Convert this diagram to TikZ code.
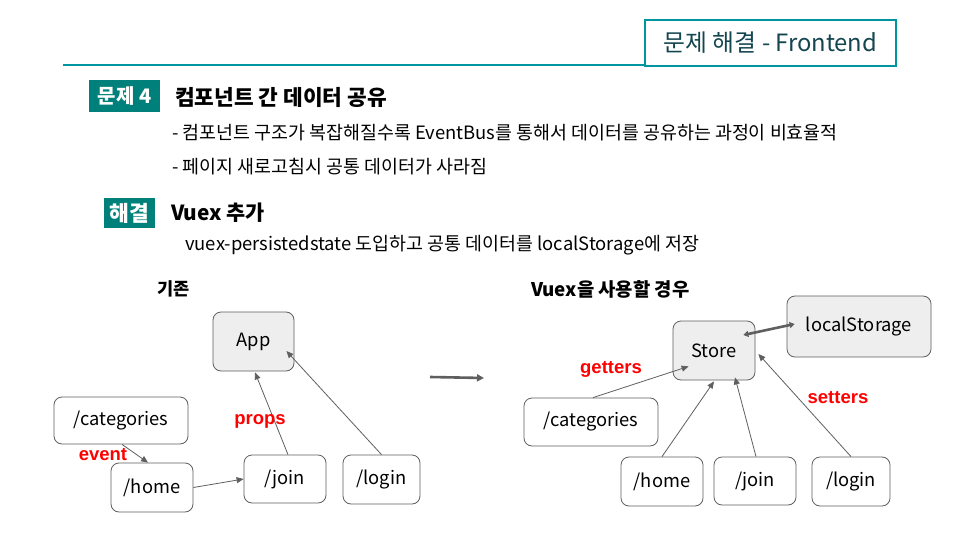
\documentclass[tikz,border=0pt]{standalone}
\usepackage{fontspec}
\setmainfont{Noto Sans CJK KR}
\newfontfamily\lblfont{Liberation Sans}
\usetikzlibrary{arrows.meta}
\definecolor{tealline}{RGB}{0,150,160}
\definecolor{tealbox}{RGB}{0,128,122}
\definecolor{headtxt}{RGB}{20,70,80}
\definecolor{edgegray}{RGB}{95,95,95}
\definecolor{nodefill}{RGB}{238,238,238}
\definecolor{lblred}{RGB}{255,0,0}
\tikzset{
  txt/.style={inner sep=0pt, anchor=west, font=\fontsize{18.4}{21}\selectfont},
  tagbox/.style={fill=tealbox, text=white, inner sep=0pt, font=\bfseries\fontsize{20}{22}\selectfont},
  rbox/.style={draw=edgegray, line width=0.8pt, rounded corners=8pt, inner sep=0pt, font=\fontsize{18.3}{21}\selectfont},
  gbox/.style={rbox, fill=nodefill},
  conn/.style={draw=edgegray, line width=0.8pt, -{Triangle[length=7pt,width=6pt]}},
  thick conn/.style={draw=edgegray, line width=2.6pt, -{Triangle[length=7pt,width=7pt]}},
  redlbl/.style={inner sep=0pt, text=lblred, font=\lblfont\bfseries\fontsize{18.5}{20}\selectfont}
}
\begin{document}
\begin{tikzpicture}[x=1pt,y=-1pt]
\useasboundingbox[fill=white] (0,0) rectangle (960,540);
% header
\draw[tealline, line width=2.5pt] (63,65) -- (896,65);
\node[draw=tealline, line width=2pt, fill=white, minimum width=251pt, minimum height=46pt, inner sep=0pt,
  text=headtxt, font=\fontsize{23.8}{27}\selectfont] (head) at (770.5,43) {문제 해결 - Frontend};
% problem
\node[tagbox, minimum width=71pt, minimum height=32pt] (tag1) at (124.5,96) {문제 4};
\node[txt, font=\bfseries\fontsize{21.4}{25}\selectfont] (title1) at (175,97) {컴포넌트 간 데이터 공유};
\node[txt] (b1) at (172,133) {- 컴포넌트 구조가 복잡해질수록 EventBus를 통해서 데이터를 공유하는 과정이 비효율적};
\node[txt] (b2) at (172,167) {- 페이지 새로고침시 공통 데이터가 사라짐};
% solution
\node[tagbox, minimum width=51pt, minimum height=30pt, font=\bfseries\fontsize{21.5}{24}\selectfont] (tag2) at (129.5,213) {해결};
\node[txt, font=\bfseries\fontsize{20.8}{24}\selectfont] (title2) at (171,213) {Vuex 추가};
\node[txt] (s1) at (185,245) {vuex-persistedstate 도입하고 공통 데이터를 localStorage에 저장};
\node[txt, font=\bfseries\fontsize{17.6}{20}\selectfont] (old) at (157,289) {기존};
\node[txt, font=\bfseries\fontsize{18.8}{22}\selectfont] (new) at (531,289) {Vuex을 사용할 경우};
% left diagram
\node[gbox, minimum width=81pt, minimum height=59pt] (app) at (253.5,341.5) {App};
\node[rbox, minimum width=134pt, minimum height=47pt] (cat) at (121,420.5) {/categories};
\node[rbox, minimum width=82pt, minimum height=49pt] (home) at (152,487.5) {/home};
\node[rbox, minimum width=82pt, minimum height=48pt] (join) at (285,479) {/join};
\node[rbox, minimum width=77pt, minimum height=49pt] (login) at (381.5,479.5) {/login};
\draw[conn] ([xshift=1pt]cat.south) -- ([xshift=-4pt]home.north);
\draw[conn] (home.east) -- (join.west);
\draw[conn] ([xshift=3pt]join.north) -- ([xshift=1.5pt,yshift=-1pt]app.south);
\draw[conn] (login.north) -- ([xshift=-8pt,yshift=-9.5pt]app.east);
\node[redlbl] (ev) at (103,455) {event};
\node[redlbl] (pr) at (260,421) {props};
% middle arrow
\coordinate (ma) at (430,377);
\coordinate (mb) at (484,378);
\draw[thick conn] (ma) -- (mb);
% right diagram
\node[gbox, minimum width=82pt, minimum height=59pt] (store) at (714,350.5) {Store};
\node[gbox, minimum width=144pt, minimum height=61pt] (ls) at (859,326.5) {localStorage};
\node[rbox, minimum width=134pt, minimum height=48pt] (cat2) at (591,422) {/categories};
\node[rbox, minimum width=82pt, minimum height=49pt] (home2) at (662,481.5) {/home};
\node[rbox, minimum width=82pt, minimum height=48pt] (join2) at (755,481) {/join};
\node[rbox, minimum width=78pt, minimum height=49pt] (login2) at (851,481.5) {/login};
\draw[conn] ([xshift=2pt]cat2.north) -- ([xshift=16pt,yshift=14pt]store.south west);
\draw[conn] (home2.north) -- ([yshift=-1pt]store.south);
\draw[conn] ([xshift=1pt]join2.north) -- ([xshift=21pt,yshift=3pt]store.south);
\draw[conn] (login2.north) -- ([xshift=3pt,yshift=-3.5pt]store.east);
\draw[draw=edgegray, line width=2.6pt, {Triangle[length=5pt,width=6pt]}-{Triangle[length=5pt,width=6pt]}]
  ([xshift=-12pt,yshift=15.5pt]store.east) -- ([xshift=8pt,yshift=2.5pt]ls.west);
\node[redlbl] (get) at (611,369) {getters};
\node[redlbl] (set) at (838,398) {setters};
\end{tikzpicture}
\end{document}
